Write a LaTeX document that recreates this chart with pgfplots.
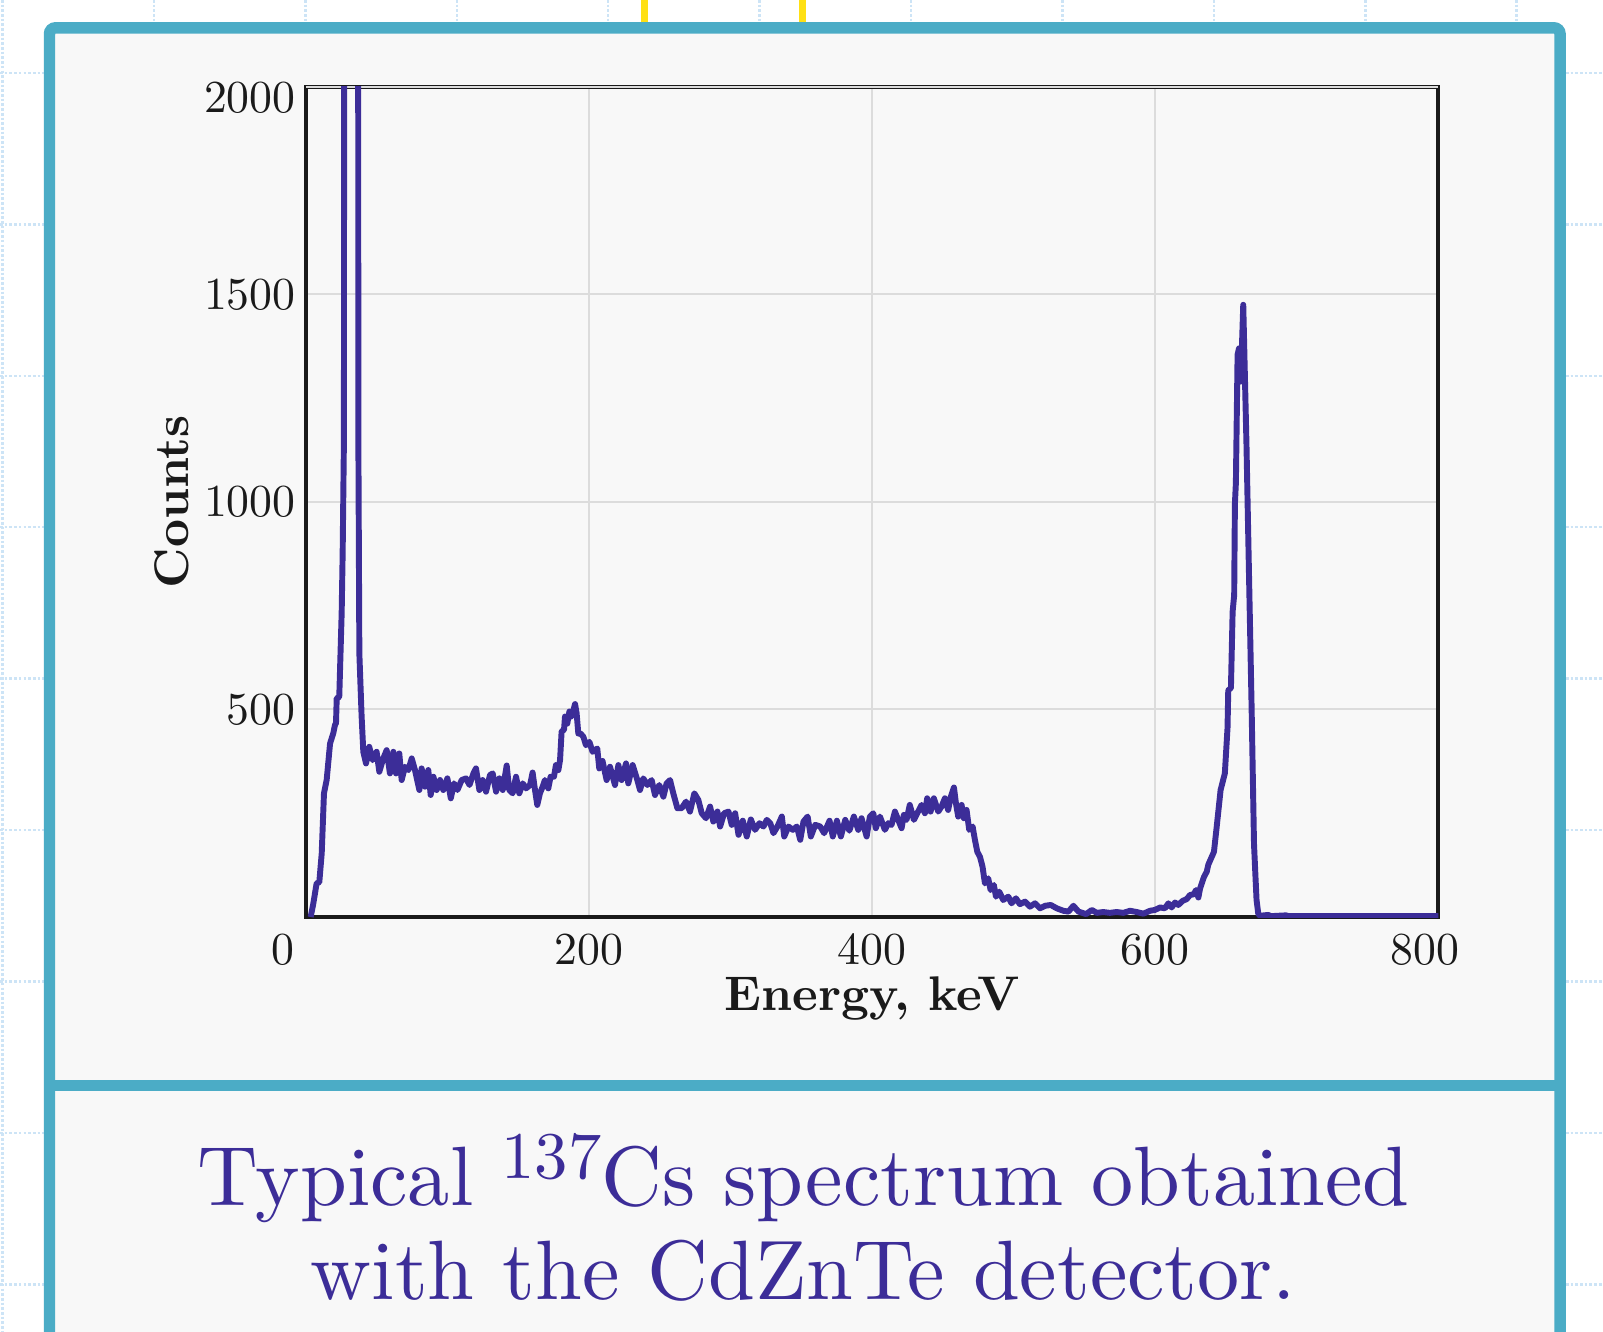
\documentclass[border=0pt]{standalone}
\usepackage{fontspec}
\setmainfont{lmroman10-regular}[Extension=.otf, BoldFont=lmroman10-bold, ItalicFont=lmroman10-italic]
\usepackage{pgfplots}
\pgfplotsset{compat=1.18}
\definecolor{frameblue}{RGB}{75,172,198}
\definecolor{spec}{RGB}{60,45,152}
\definecolor{dotblue}{RGB}{205,228,246}
\definecolor{gold}{RGB}{255,224,20}
\definecolor{panel}{RGB}{248,248,248}
\definecolor{gridgray}{RGB}{220,220,220}
\definecolor{axblack}{RGB}{26,26,26}
\begin{document}
\begin{tikzpicture}
\useasboundingbox (0,0) rectangle (392pt,-325.5pt);
\clip (0,0) rectangle (392pt,-325.5pt);
\fill[white] (0,0) rectangle (392pt,-325.5pt);
\foreach \k in {0,...,10} {
  \draw[dotblue, line width=0.6pt, dash pattern=on 0.65pt off 0.5pt] ({0.6pt+\k*37.03pt},0) -- ++(0,-325.5pt);
}
\foreach \k in {0,...,8} {
  \draw[dotblue, line width=0.6pt, dash pattern=on 0.65pt off 0.5pt] (0,{-17.85pt-\k*37.03pt}) -- ++(392pt,0);
}
\draw[gold, line width=1.6pt] (157.65pt,0) -- (157.65pt,-7pt);
\draw[gold, line width=1.6pt] (196.3pt,0) -- (196.3pt,-7pt);
\draw[frameblue, line width=2.8pt, fill=panel, rounded corners=1.5pt] (12.1pt,-6.8pt) rectangle (381.5pt,-345pt);
\draw[frameblue, line width=2.8pt] (12.1pt,-265.4pt) -- (381.5pt,-265.4pt);

\begin{axis}[
  at={(74.83pt,-224.25pt)}, anchor=south west,
  scale only axis, width=276.9pt, height=203pt,
  xmin=0, xmax=800, ymin=0, ymax=2000,
  xtick={0,200,400,600,800},
  xticklabels={\hspace*{-11.2pt}0,200,400,600,\hspace*{-6.6pt}800},
  ytick={500,1000,1500},
  extra y ticks={2000},
  extra y tick style={yticklabel style={yshift=-2.75pt}},
  /pgf/number format/1000 sep={},
  /pgf/number format/assume math mode=true,
  scaled ticks=false,
  grid=major,
  major grid style={gridgray, line width=0.5pt},
  axis line style={axblack, line width=1pt},
  tick style={draw=none},
  axis background/.style={fill=panel},
  tick label style={font=\fontsize{11.2}{12}\selectfont, text=axblack},
  yticklabel style={xshift=1pt},
  xticklabel style={yshift=-0.6pt},
  every axis x label/.style={at={(axis description cs:0.5,0)}, anchor=north, yshift=-11pt, font=\bfseries\fontsize{11.9}{13}\selectfont, text=axblack},
  every axis y label/.style={at={(axis description cs:-0.0903,0.5)}, rotate=90, anchor=south, font=\bfseries\fontsize{11.9}{13}\selectfont, text=axblack},
  xlabel={Energy, keV},
  ylabel={Counts},
]
\addplot[spec, line width=1.45pt, line join=round, mark=none] table {
x y
3.3 0
5.2 33
7.5 81
9.4 84
11.1 153
12.7 298
14.6 330
17.0 418
19.3 443
20.5 463
21.2 467
21.7 527
23.5 530
25.2 732
25.9 876
26.8 1149
27.0 2600
31.5 4500
36.8 2600
37.0 1149
37.7 635
39.3 483
40.5 398
42.4 370
44.7 410
46.1 390
47.1 378
49.9 398
51.8 350
54.6 382
57.0 402
59.3 346
61.7 398
63.6 346
65.9 394
67.6 330
69.9 362
72.3 354
74.7 382
77.0 354
80.1 306
81.7 358
84.1 314
86.4 354
88.1 294
90.0 338
92.3 306
94.7 330
97.0 306
99.9 334
102.3 286
104.6 322
107.0 306
110.0 330
113.1 334
115.5 318
118.3 346
120.1 358
122.5 306
124.8 330
127.2 302
130.0 342
131.9 346
134.3 302
136.6 334
139.0 306
141.8 365
143.6 306
146.0 298
148.4 338
150.7 298
153.1 322
155.5 310
158.3 318
160.1 348
161.8 306
163.4 270
165.3 298
167.2 314
168.8 330
171.2 310
172.8 338
175.2 338
176.6 366
178.3 354
179.5 378
180.6 447
182.3 451
183.0 483
184.6 466
186.1 495
187.7 483
190.1 513
191.2 491
192.4 442
194.0 442
196.0 434
197.8 414
200.2 422
202.5 398
205.8 406
207.2 358
209.5 376
212.4 330
214.8 362
218.3 318
220.7 366
223.0 330
226.1 370
227.7 322
230.8 366
234.1 330
236.0 306
238.3 334
241.2 318
244.2 330
246.6 294
249.6 318
252.5 290
254.8 322
257.2 330
259.5 298
262.4 262
265.4 262
268.5 278
271.3 254
274.4 298
277.2 282
279.6 250
282.6 238
285.5 266
287.8 230
290.7 254
292.6 218
295.4 250
298.5 254
300.8 222
303.2 250
305.6 198
308.6 232
311.4 194
314.3 235
317.3 210
320.4 226
323.2 218
325.6 234
328.0 226
330.3 202
333.1 218
336.2 242
337.9 194
340.9 218
344.0 210
346.8 218
349.2 186
351.5 230
354.4 242
356.7 194
359.8 222
363.3 218
366.1 202
369.9 232
372.2 194
375.1 232
377.9 194
381.0 234
383.9 208
387.1 242
390.2 210
392.5 238
396.1 194
398.4 242
400.8 250
402.6 214
405.5 242
409.0 210
411.4 226
413.7 222
416.1 254
418.4 234
420.8 214
422.4 246
424.3 234
426.6 270
429.5 234
432.5 254
434.9 270
437.3 250
438.9 286
441.3 254
443.6 286
446.7 254
449.0 266
451.4 286
453.7 258
455.6 290
457.8 312
459.2 274
460.8 242
463.2 270
464.8 238
466.7 258
468.6 210
471.0 218
472.6 186
474.3 157
476.2 145
478.0 121
479.7 81
482.0 93
483.7 65
486.0 77
487.5 49
489.8 61
492.6 41
496.2 49
498.5 33
501.6 45
504.4 31
508.0 37
511.5 25
515.1 33
518.6 21
522.2 27
526.2 29
530.4 21
535.1 15
538.7 13
542.2 27
545.8 13
551.2 7
555.2 17
558.7 10
563.3 12
568.0 10
572.7 12
577.5 10
582.2 15
586.9 12
591.6 8
596.3 15
599.8 17
603.4 23
606.9 21
609.3 33
611.6 23
614.0 35
616.3 29
619.4 39
622.2 43
624.6 53
627.4 55
628.8 65
630.5 47
631.7 69
632.9 81
634.5 97
636.4 109
637.5 126
641.5 157
643.4 216
646.2 306
649.2 346
651.1 456
651.6 546
653.5 552
654.7 736
655.8 776
656.3 995
657.0 1046
658.2 1355
659.2 1370
660.5 1290
662.2 1475
664.5 1135
666.2 836
668.1 506
669.8 176
670.8 100
671.6 41
672.8 8
674.0 3
680.0 5
681.5 2
692.5 4
694.0 2
800.0 2
};
\end{axis}

\node[anchor=base, text=spec, font=\fontsize{20.6}{23}\selectfont, inner sep=0pt] at (196.5pt,-294.7pt) {Typical \raisebox{6.5pt}{\fontsize{16.3}{16}\selectfont 137}Cs spectrum obtained};
\node[anchor=base, text=spec, font=\fontsize{20.6}{23}\selectfont, inner sep=0pt] at (196.5pt,-317.9pt) {with the CdZnTe detector.};
\end{tikzpicture}
\end{document}
